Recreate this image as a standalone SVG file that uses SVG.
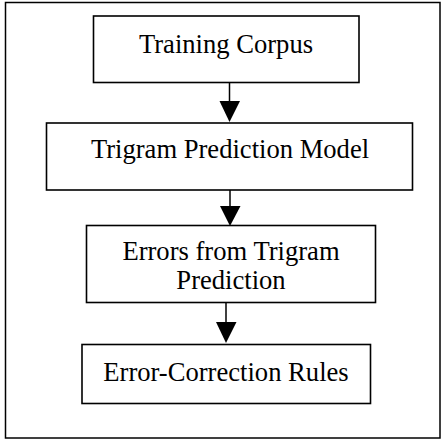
<svg xmlns="http://www.w3.org/2000/svg" width="441" height="440" viewBox="0 0 441 440">
<style>
.box{fill:#fff;stroke:#000;stroke-width:1.6}
.lbl{font-family:"Liberation Serif","Times New Roman",serif;font-size:26.6px;fill:#000;text-anchor:middle}
.edge{stroke:#000;stroke-width:1.5;fill:none}
.head{fill:#000;stroke:none}
</style>
<rect x="0" y="0" width="441" height="440" fill="#fff"/>
<rect x="5.5" y="2.5" width="434.5" height="435.5" fill="none" stroke="#000" stroke-width="1.5"/>
<g id="connectors">
<line class="edge" x1="229.5" y1="83" x2="229.5" y2="101"/>
<polygon class="head" points="219.5,101 240,101 229.5,122"/>
<line class="edge" x1="230" y1="190" x2="230" y2="206"/>
<polygon class="head" points="220,206 240.5,206 230,226"/>
<line class="edge" x1="226" y1="303" x2="226" y2="322"/>
<polygon class="head" points="216,322 236.5,322 226,343"/>
</g>
<g id="n1">
<rect class="box" x="93.5" y="16" width="265.5" height="66.5"/>
<text class="lbl" x="226" y="52.5">Training Corpus</text>
</g>
<g id="n2">
<rect class="box" x="46.5" y="123" width="366" height="67"/>
<text class="lbl" x="230" y="158">Trigram Prediction Model</text>
</g>
<g id="n3">
<rect class="box" x="86.5" y="225.5" width="289" height="77"/>
<text class="lbl" x="231" y="260">Errors from Trigram</text>
<text class="lbl" x="231" y="289">Prediction</text>
</g>
<g id="n4">
<rect class="box" x="82" y="344.5" width="288.5" height="59"/>
<text class="lbl" x="226" y="380.5">Error-Correction Rules</text>
</g>
</svg>
